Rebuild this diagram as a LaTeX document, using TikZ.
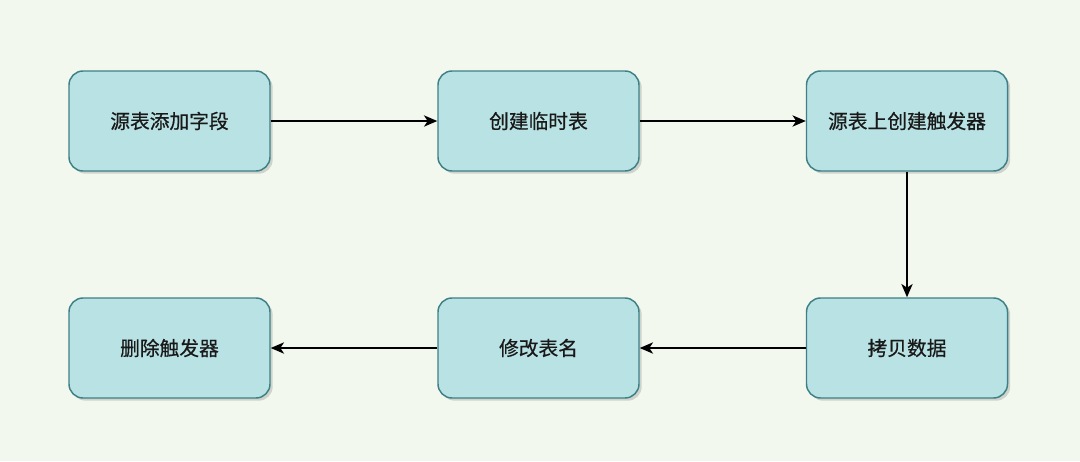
\documentclass[tikz,border=0pt]{standalone}
\usepackage{fontspec}
\newfontfamily\cjk[FakeBold=0.6]{Noto Sans CJK SC}
\usetikzlibrary{arrows.meta,shadows}
\definecolor{bgc}{HTML}{F2F8EE}
\definecolor{boxfill}{HTML}{B9E2E4}
\definecolor{boxdraw}{HTML}{3E8086}
\begin{document}
\begin{tikzpicture}[x=0.75pt,y=-0.75pt,
  stepbox/.style={draw=boxdraw,fill=boxfill,line width=1.1pt,rounded corners=10.5pt,
    minimum width=150.75pt,minimum height=75pt,inner sep=0pt,
    font=\cjk\fontsize{14.8}{17}\selectfont,text=black!90,
    drop shadow={shadow xshift=2pt,shadow yshift=-2pt,opacity=0.25,fill=black!60}},
  conn/.style={line width=1.1pt,-{Stealth[length=10pt,width=8.5pt,inset=2.8pt]}}]
\fill[bgc] (0,0) rectangle (1080,461);
\useasboundingbox (0,0) rectangle (1080,461);
\node[stepbox] (a) at (169.5,121) {源表添加字段};
\node[stepbox] (b) at (538.5,121) {创建临时表};
\node[stepbox] (c) at (907,121) {源表上创建触发器};
\node[stepbox] (d) at (907,348) {拷贝数据};
\node[stepbox] (e) at (538.5,348) {修改表名};
\node[stepbox] (f) at (169.5,348) {删除触发器};
\draw[conn] (a) -- (b);
\draw[conn] (b) -- (c);
\draw[conn] (c) -- (d);
\draw[conn] (d) -- (e);
\draw[conn] (e) -- (f);
\end{tikzpicture}
\end{document}
